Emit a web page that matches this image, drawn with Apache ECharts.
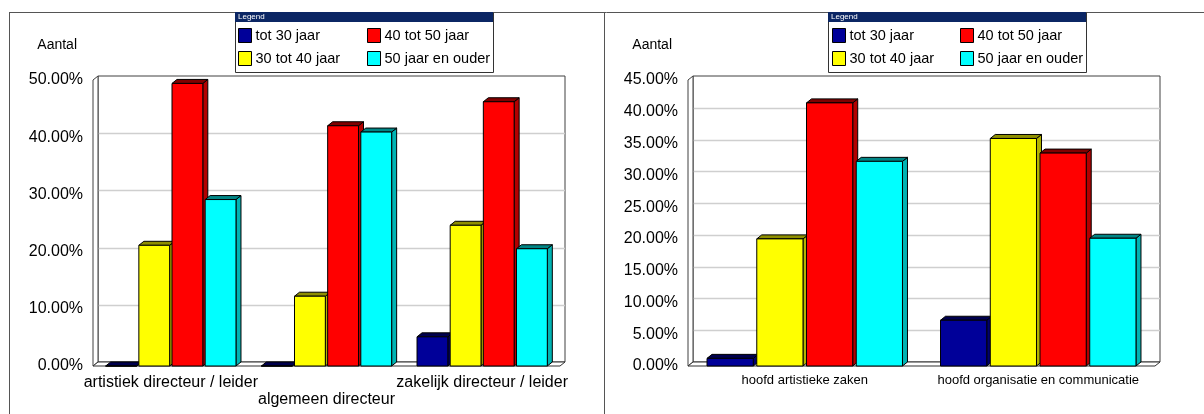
<!DOCTYPE html>
<html>
<head>
<meta charset="utf-8">
<script src="https://cdn.jsdelivr.net/npm/echarts@6/dist/echarts.min.js"></script>
<style>
  html, body { margin: 0; padding: 0; background: #fff; }
  #chart { width: 1204px; height: 414px; }
</style>
</head>
<body>
<div id="chart"></div>
<script>
// Age groups (series) shared by both panels
const seriesNames = ['tot 30 jaar', '30 tot 40 jaar', '40 tot 50 jaar', '50 jaar en ouder'];

// Left panel: directors
const leftCategories = ['artistiek directeur / leider', 'algemeen directeur', 'zakelijk directeur / leider'];
const leftTot30   = [0, 0, 5.1];
const left30to40  = [21.1, 12.2, 24.6];
const left40to50  = [49.4, 42.0, 46.2];
const left50plus  = [29.1, 40.9, 20.5];
const leftTicks   = [0, 10, 20, 30, 40, 50];

// Right panel: department heads
const rightCategories = ['hoofd artistieke zaken', 'hoofd organisatie en communicatie'];
const rightTot30  = [1.2, 7.2];
const right30to40 = [20.0, 35.8];
const right40to50 = [41.4, 33.5];
const right50plus = [32.2, 20.1];
const rightTicks  = [0, 5, 10, 15, 20, 25, 30, 35, 40, 45];

const axisName = 'Aantal';

// Shades per series: front face, side face, top face
const shades = [
  { front: '#000099', side: '#00006e', top: '#00004d' },
  { front: '#ffff00', side: '#b3b300', top: '#8f8f00' },
  { front: '#ff0000', side: '#b30000', top: '#800000' },
  { front: '#00ffff', side: '#00b3b3', top: '#008585' }
];

const FONT = '"Liberation Sans", Arial, sans-serif';
const DX = 5, DY = 4;           // depth offset of the 3D effect
const BAR_W = 0.198, BAR_STEP = 0.213;

function makeBarRenderer(k, c) {
  return function (params, api) {
    const cat = api.value(0), v = api.value(1);
    const base = api.coord([cat, 0]);
    const top = api.coord([cat, v]);
    const band = api.size([1, 0])[0];
    const w = band * BAR_W, step = band * BAR_STEP;
    const x0 = base[0] - (3 * step + w) / 2 + k * step;
    const yb = base[1], yt = top[1];
    const edge = { stroke: '#000', lineWidth: 1 };
    return {
      type: 'group',
      children: [
        { type: 'polygon', shape: { points: [[x0 + w, yt], [x0 + w + DX, yt - DY], [x0 + w + DX, yb - DY], [x0 + w, yb]] },
          style: Object.assign({ fill: c.side }, edge) },
        { type: 'polygon', shape: { points: [[x0, yt], [x0 + DX, yt - DY], [x0 + w + DX, yt - DY], [x0 + w, yt]] },
          style: Object.assign({ fill: c.top }, edge) },
        { type: 'rect', shape: { x: x0, y: yt, width: w, height: yb - yt },
          style: Object.assign({ fill: c.front }, edge) }
      ]
    };
  };
}

function makeFrameRenderer(ticks) {
  return function (params, api) {
    const cs = params.coordSys;
    const x = cs.x, y = cs.y, w = cs.width, h = cs.height;
    const children = [];
    children.push({ type: 'rect', shape: { x: x + DX, y: y - DY, width: w, height: h },
      style: { fill: '#fff', stroke: '#404040', lineWidth: 1 } });
    ticks.forEach(function (t, i) {
      if (i === 0 || i === ticks.length - 1) return;
      const py = Math.round(api.coord([0, t])[1] - DY) + 0.5;
      children.push({ type: 'line', shape: { x1: x + DX, y1: py, x2: x + DX + w, y2: py },
        style: { stroke: '#cfcfcf', lineWidth: 1.5 } });
    });
    children.push({ type: 'polygon', shape: { points: [[x, y], [x + DX, y - DY], [x + DX, y + h - DY], [x, y + h]] },
      style: { fill: '#fff', stroke: '#404040', lineWidth: 1 } });
    children.push({ type: 'polygon', shape: { points: [[x, y + h], [x + DX, y + h - DY], [x + w + DX, y + h - DY], [x + w, y + h]] },
      style: { fill: '#fff', stroke: '#303030', lineWidth: 1 } });
    return { type: 'group', children: children };
  };
}

function barSeries(axisIdx, k, values) {
  return {
    type: 'custom',
    name: seriesNames[k],
    xAxisIndex: axisIdx,
    yAxisIndex: axisIdx,
    clip: false,
    z: 3,
    itemStyle: { color: shades[k].front, borderColor: '#000', borderWidth: 1 },
    renderItem: makeBarRenderer(k, shades[k]),
    data: values.map(function (v, i) { return [i, v]; })
  };
}

function frameSeries(axisIdx, ticks) {
  return {
    type: 'custom',
    name: 'frame' + axisIdx,
    xAxisIndex: axisIdx,
    yAxisIndex: axisIdx,
    clip: false,
    silent: true,
    z: 1,
    renderItem: makeFrameRenderer(ticks),
    data: [[0, 0]]
  };
}

function yAxis(gridIndex, ticks) {
  return {
    type: 'value',
    gridIndex: gridIndex,
    min: ticks[0],
    max: ticks[ticks.length - 1],
    interval: ticks[1] - ticks[0],
    name: axisName,
    nameLocation: 'end',
    nameGap: 35,
    nameTextStyle: { fontFamily: FONT, fontSize: 14, color: '#000', align: 'right', verticalAlign: 'middle', padding: [0, 16, 0, 0] },
    axisLine: { show: false },
    axisTick: { show: false },
    splitLine: { show: false },
    axisLabel: {
      fontFamily: FONT, fontSize: 16, color: '#000', margin: 10,
      formatter: function (v) { return v.toFixed(2) + '%'; }
    }
  };
}

function legendBlock(left, names) {
  return {
    left: left, top: 28, orient: 'vertical', padding: 0, itemGap: 8,
    itemWidth: 13, itemHeight: 14, icon: 'rect',
    itemStyle: { borderColor: '#000', borderWidth: 1 },
    textStyle: { fontFamily: FONT, fontSize: 14.5, color: '#000', padding: [0, 0, 0, -1] },
    data: names
  };
}

function legendFrame(x) {
  return [
    { type: 'rect', left: x, top: 12, z: -1, shape: { x: 0, y: 0, width: 258, height: 60 },
      style: { fill: '#fff', stroke: '#333', lineWidth: 1 } },
    { type: 'rect', left: x, top: 12, z: 0, shape: { x: 0, y: 0, width: 258, height: 10 },
      style: { fill: '#0b2664' } },
    { type: 'text', left: x + 3, top: 13, z: 1,
      style: { text: 'Legend', fill: '#fff', font: '8px ' + FONT } }
  ];
}

const chart = echarts.init(document.getElementById('chart'), null, { renderer: 'canvas' });

chart.setOption({
  animation: false,
  backgroundColor: '#fff',
  grid: [
    { left: 93, top: 80, width: 467, height: 286 },
    { left: 688, top: 80, width: 467, height: 286 }
  ],
  xAxis: [
    {
      type: 'category', gridIndex: 0, data: leftCategories,
      axisLine: { show: false }, axisTick: { show: false }, splitLine: { show: false },
      axisLabel: {
        interval: 0, margin: 8, fontFamily: FONT, fontSize: 16, color: '#000', lineHeight: 17,
        formatter: function (v, i) { return i === 1 ? '\n' + v : v; }
      }
    },
    {
      type: 'category', gridIndex: 1, data: rightCategories,
      axisLine: { show: false }, axisTick: { show: false }, splitLine: { show: false },
      axisLabel: { interval: 0, margin: 8, fontFamily: FONT, fontSize: 13, color: '#000' }
    }
  ],
  yAxis: [yAxis(0, leftTicks), yAxis(1, rightTicks)],
  legend: [
    legendBlock(238, [seriesNames[0], seriesNames[1]]),
    legendBlock(367, [seriesNames[2], seriesNames[3]]),
    legendBlock(832, [seriesNames[0], seriesNames[1]]),
    legendBlock(960, [seriesNames[2], seriesNames[3]])
  ],
  graphic: [
    { type: 'line', z: -2, shape: { x1: 9, y1: 12.5, x2: 1204, y2: 12.5 }, style: { stroke: '#555', lineWidth: 1 } },
    { type: 'line', z: -2, shape: { x1: 9.5, y1: 12, x2: 9.5, y2: 414 }, style: { stroke: '#555', lineWidth: 1 } },
    { type: 'line', z: -2, shape: { x1: 604.5, y1: 12, x2: 604.5, y2: 414 }, style: { stroke: '#555', lineWidth: 1 } }
  ].concat(legendFrame(235), legendFrame(828)),
  series: [
    frameSeries(0, leftTicks),
    barSeries(0, 0, leftTot30),
    barSeries(0, 1, left30to40),
    barSeries(0, 2, left40to50),
    barSeries(0, 3, left50plus),
    frameSeries(1, rightTicks),
    barSeries(1, 0, rightTot30),
    barSeries(1, 1, right30to40),
    barSeries(1, 2, right40to50),
    barSeries(1, 3, right50plus)
  ]
});
</script>
</body>
</html>
